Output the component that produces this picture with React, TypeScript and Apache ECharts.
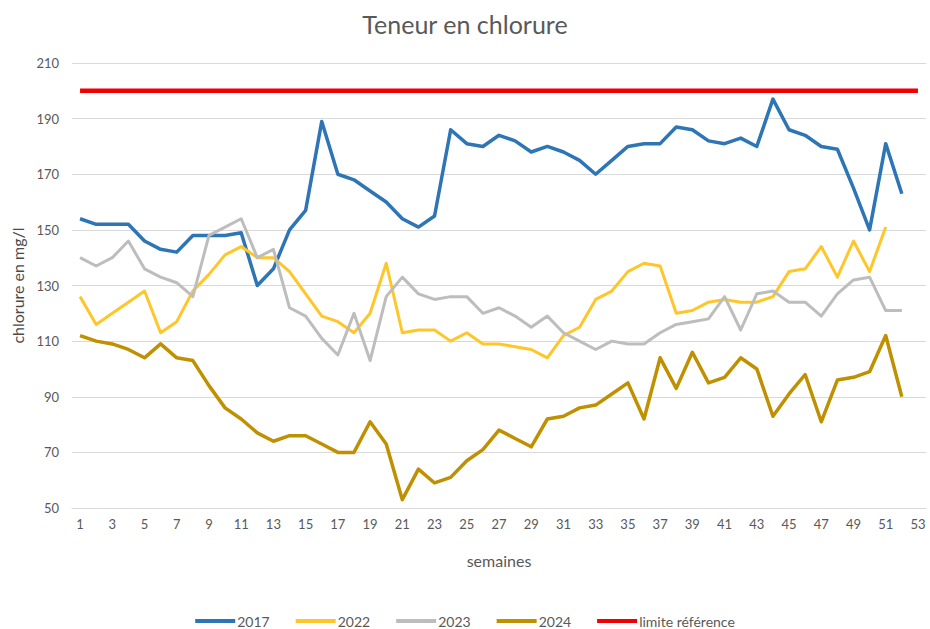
import React, { useEffect, useRef } from "react";
import * as echarts from "echarts";

const weeks: string[] = Array.from({ length: 53 }, (_, i) => String(i + 1));

const s2017: (number | null)[] = [
  154, 152, 152, 152, 146, 143, 142, 148, 148, 148,
  149, 130, 136, 150, 157, 189, 170, 168, 164, 160,
  154, 151, 155, 186, 181, 180, 184, 182, 178, 180,
  178, 175, 170, 175, 180, 181, 181, 187, 186, 182,
  181, 183, 180, 197, 186, 184, 180, 179, 165, 150,
  181, 163,
];

const s2022: (number | null)[] = [
  126, 116, 120, 124, 128, 113, 117, 128, 134, 141,
  144, 140, 140, 135, 127, 119, 117, 113, 120, 138,
  113, 114, 114, 110, 113, 109, 109, 108, 107, 104,
  112, 115, 125, 128, 135, 138, 137, 120, 121, 124,
  125, 124, 124, 126, 135, 136, 144, 133, 146, 135,
  151,
];

const s2023: (number | null)[] = [
  140, 137, 140, 146, 136, 133, 131, 126, 148, 151,
  154, 140, 143, 122, 119, 111, 105, 120, 103, 126,
  133, 127, 125, 126, 126, 120, 122, 119, 115, 119,
  113, 110, 107, 110, 109, 109, 113, 116, 117, 118,
  126, 114, 127, 128, 124, 124, 119, 127, 132, 133,
  121, 121,
];

const s2024: (number | null)[] = [
  112, 110, 109, 107, 104, 109, 104, 103, 94, 86,
  82, 77, 74, 76, 76, 73, 70, 70, 81, 73,
  53, 64, 59, 61, 67, 71, 78, 75, 72, 82,
  83, 86, 87, 91, 95, 82, 104, 93, 106, 95,
  97, 104, 100, 83, 91, 98, 81, 96, 97, 99,
  112, 90,
];

const limite: number[] = Array.from({ length: 53 }, () => 200);

const yTicks = { min: 50, max: 210, interval: 20 };

const FONT = "Lato, 'Liberation Sans', sans-serif";
const TXT = "#595959";

export default function App() {
  const ref = useRef<HTMLDivElement>(null);
  useEffect(() => {
    if (!ref.current) return;
    const chart = echarts.init(ref.current, undefined, { renderer: "svg" });
    const line = (name: string, data: (number | null)[], color: string, width: number) => ({
      name,
      type: "line",
      data,
      showSymbol: false,
      symbol: "none",
      lineStyle: { color, width, join: "round" },
      itemStyle: { color },
      connectNulls: false,
    });
    chart.setOption({
      animation: false,
      backgroundColor: "#ffffff",
      textStyle: { fontFamily: FONT, color: TXT },
      title: {
        text: "Teneur en chlorure",
        left: "center",
        top: 6,
        textStyle: { fontFamily: FONT, fontSize: 25, fontWeight: "normal", color: TXT },
      },
      grid: { left: 72, right: 4, top: 63, bottom: 121 },
      xAxis: {
        type: "category",
        data: weeks,
        boundaryGap: true,
        name: "semaines",
        nameLocation: "middle",
        nameGap: 44,
        nameTextStyle: { fontFamily: FONT, fontSize: 16, color: TXT },
        axisLine: { lineStyle: { color: "#D9D9D9", width: 1 } },
        axisTick: { show: false },
        axisLabel: { interval: 1, margin: 9, fontFamily: FONT, fontSize: 13, color: TXT },
        splitLine: { show: false },
      },
      yAxis: {
        type: "value",
        min: yTicks.min,
        max: yTicks.max,
        interval: yTicks.interval,
        name: "chlorure en mg/l",
        nameLocation: "middle",
        nameGap: 46,
        nameRotate: 90,
        nameTextStyle: { fontFamily: FONT, fontSize: 16, color: "#4a4a4a" },
        axisLine: { show: false },
        axisTick: { show: false },
        axisLabel: { margin: 13, fontFamily: FONT, fontSize: 13, color: TXT },
        splitLine: { lineStyle: { color: "#D9D9D9", width: 1 } },
      },
      legend: {
        top: 608,
        left: "center",
        icon: "rect",
        itemWidth: 40,
        itemHeight: 4,
        itemGap: 26,
        textStyle: { fontFamily: FONT, fontSize: 14, lineHeight: 16, color: TXT, padding: [0, 0, 0, -3] },
        data: ["2017", "2022", "2023", "2024", "limite référence"],
      },
      series: [
        line("2017", s2017, "#2E75B6", 3.5),
        line("2022", s2022, "#FFC62A", 3),
        line("2023", s2023, "#BDBDBD", 3),
        line("2024", s2024, "#BF9000", 3.5),
        line("limite référence", limite, "#F00000", 4.5),
      ],
    });
    return () => chart.dispose();
  }, []);
  return <div ref={ref} style={{ width: 930, height: 629, position: "absolute", left: 0, top: 0 }} />;
}
